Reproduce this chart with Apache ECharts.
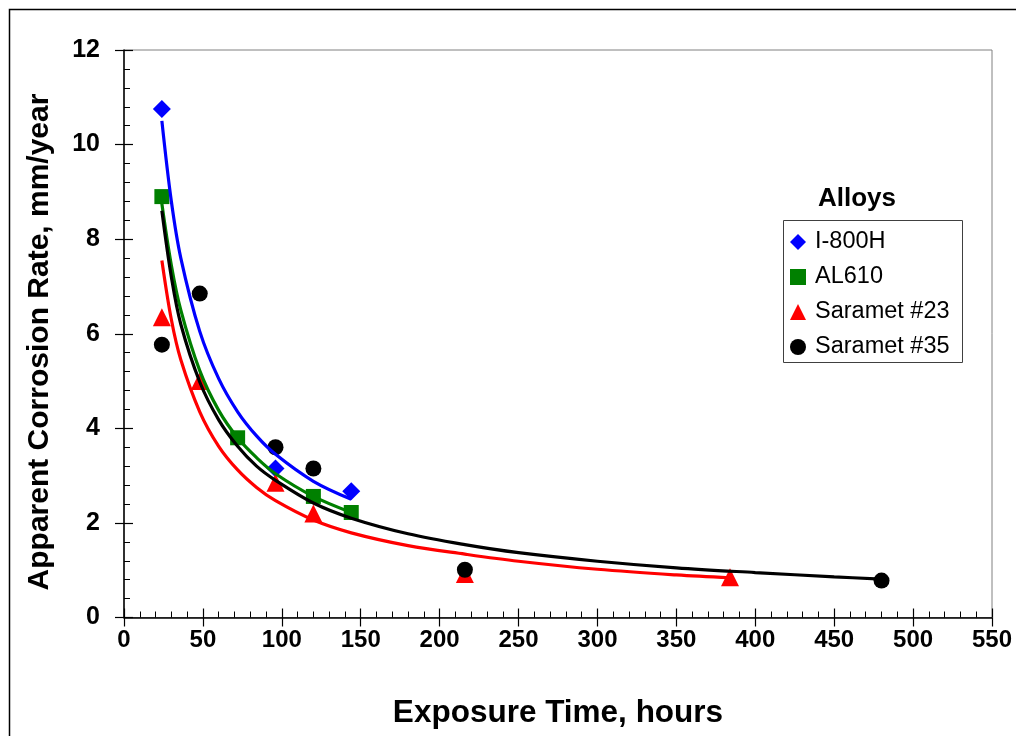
<!DOCTYPE html>
<html>
<head>
<meta charset="utf-8">
<script src="https://cdn.jsdelivr.net/npm/echarts@6/dist/echarts.min.js"></script>
<style>html,body{margin:0;padding:0;background:#fff;}#c{width:1016px;height:736px;}</style>
</head>
<body>
<div id="c"></div>
<script>
// ---- measured data points ----
const i800hX = [24, 96, 144];
const i800hY = [10.75, 3.15, 2.67];
const al610X = [24, 72, 120, 144];
const al610Y = [8.9, 3.8, 2.56, 2.22];
const s23X = [24, 48, 96, 120, 216, 384];
const s23Y = [6.35, 5.0, 2.85, 2.2, 0.92, 0.85];
const s35X = [24, 48, 96, 120, 216, 480];
const s35Y = [5.77, 6.85, 3.6, 3.15, 1.01, 0.78];

// ---- trend curves ----
const i800hFitX = [24, 30, 36, 48, 60, 72, 84, 96, 120, 144];
const i800hFitY = [10.5, 8.8, 7.6, 6.05, 5.05, 4.35, 3.84, 3.45, 2.88, 2.5];
const al610FitX = [24, 30, 36, 48, 60, 72, 84, 96, 120, 144];
const al610FitY = [8.75, 7.45, 6.5, 5.22, 4.38, 3.8, 3.38, 3.04, 2.56, 2.22];
const s23FitX = [24, 30, 36, 48, 60, 72, 84, 96, 120, 144, 180, 216, 250, 300, 350, 384];
const s23FitY = [7.55, 6.3, 5.45, 4.35, 3.62, 3.12, 2.75, 2.47, 2.06, 1.79, 1.52, 1.34, 1.19, 1.02, 0.9, 0.84];
const s35FitX = [24, 30, 36, 48, 60, 72, 84, 96, 120, 144, 180, 216, 250, 300, 350, 400, 450, 480];
const s35FitY = [8.6, 7.2, 6.2, 4.98, 4.18, 3.62, 3.2, 2.9, 2.42, 2.1, 1.77, 1.54, 1.37, 1.19, 1.05, 0.95, 0.86, 0.81];

const seriesNames = ['I-800H', 'AL610', 'Saramet #23', 'Saramet #35'];
const xTitle = 'Exposure Time, hours';
const yTitle = 'Apparent Corrosion Rate, mm/year';
const legendTitle = 'Alloys';

const pair = (xs, ys) => xs.map((x, i) => [x, ys[i]]);

const chart = echarts.init(document.getElementById('c'), null, {renderer: 'canvas'});
const FONT = 'Liberation Sans, Arial, sans-serif';

const baseX = {min: 0, max: 550, interval: 50};
const baseY = {min: 0, max: 12, interval: 2};

const option = {
  backgroundColor: '#fff',
  animation: false,
  grid: {left: 124, right: 24, top: 50, bottom: 118.5, show: true, borderColor: '#808080', borderWidth: 1, backgroundColor: 'transparent'},
  xAxis: [
    Object.assign({type: 'value', position: 'bottom',
      axisLine: {show: true, onZero: false, lineStyle: {color: '#000', width: 1.5}},
      axisTick: {show: true, inside: false, length: 9, lineStyle: {color: '#000', width: 1.2}},
      axisLabel: {show: true, margin: 11, color: '#000', fontFamily: FONT, fontWeight: 'bold', fontSize: 24},
      splitLine: {show: false}}, baseX),
    Object.assign({type: 'value', position: 'bottom',
      axisLine: {show: false},
      axisTick: {show: true, inside: true, length: 9, lineStyle: {color: '#000', width: 1.2}},
      minorTick: {show: true, splitNumber: 5, length: 6, lineStyle: {color: '#000', width: 1}},
      axisLabel: {show: false}, splitLine: {show: false}}, baseX)
  ],
  yAxis: [
    Object.assign({type: 'value', position: 'left',
      axisLine: {show: true, onZero: false, lineStyle: {color: '#000', width: 1.5}},
      axisTick: {show: true, inside: false, length: 9, lineStyle: {color: '#000', width: 1.2}},
      axisLabel: {show: true, margin: 24, color: '#000', fontFamily: FONT, fontWeight: 'bold', fontSize: 25},
      splitLine: {show: false}}, baseY),
    Object.assign({type: 'value', position: 'left',
      axisLine: {show: false},
      axisTick: {show: true, inside: true, length: 9, lineStyle: {color: '#000', width: 1.2}},
      minorTick: {show: true, splitNumber: 5, length: 6, lineStyle: {color: '#000', width: 1}},
      axisLabel: {show: false}, splitLine: {show: false}}, baseY)
  ],
  legend: {
    orient: 'vertical', left: 790, top: 230, padding: 0,
    itemWidth: 16, itemHeight: 16, itemGap: 11,
    textStyle: {fontFamily: FONT, fontSize: 23.5, lineHeight: 20, color: '#000', padding: [0, 0, 0, 4]},
    data: [
      {name: seriesNames[0], icon: 'diamond'},
      {name: seriesNames[1], icon: 'rect'},
      {name: seriesNames[2], icon: 'triangle'},
      {name: seriesNames[3], icon: 'circle'}
    ]
  },
  graphic: [
    {type: 'rect', shape: {x: 9.5, y: 9.5, width: 1100, height: 1000}, style: {fill: 'none', stroke: '#000', lineWidth: 1.5}, silent: true, z: -10},
    {type: 'rect', shape: {x: 783.5, y: 220.5, width: 179, height: 142}, style: {fill: '#fff', stroke: '#404040', lineWidth: 1}, z: -1},
    {type: 'text', x: 857, y: 199, style: {text: legendTitle, font: 'bold 26px ' + FONT, fill: '#000', textAlign: 'center', textVerticalAlign: 'middle'}},
    {type: 'text', x: 558, y: 713, style: {text: xTitle, font: 'bold 31.5px ' + FONT, fill: '#000', textAlign: 'center', textVerticalAlign: 'middle'}},
    {type: 'text', x: 40, y: 342, rotation: Math.PI / 2, style: {text: yTitle, font: 'bold 30px ' + FONT, fill: '#000', textAlign: 'center', textVerticalAlign: 'middle'}}
  ],
  series: [
    {name: seriesNames[0], type: 'scatter', symbol: 'diamond', symbolSize: 18, itemStyle: {color: '#0000FF', opacity: 1}, data: pair(i800hX, i800hY), z: 2},
    {name: seriesNames[1], type: 'scatter', symbol: 'rect', symbolSize: 15, itemStyle: {color: '#008000', opacity: 1}, data: pair(al610X, al610Y), z: 2},
    {name: seriesNames[2], type: 'scatter', symbol: 'triangle', symbolSize: 18, itemStyle: {color: '#FF0000', opacity: 1}, data: pair(s23X, s23Y), z: 2},
    {name: seriesNames[3], type: 'scatter', symbol: 'circle', symbolSize: 16, itemStyle: {color: '#000000', opacity: 1}, data: pair(s35X, s35Y), z: 2},
    {name: 'fit-i800h', type: 'line', smooth: 0.35, showSymbol: false, symbol: 'none', lineStyle: {color: '#0000FF', width: 3.2}, data: pair(i800hFitX, i800hFitY), z: 3},
    {name: 'fit-al610', type: 'line', smooth: 0.35, showSymbol: false, symbol: 'none', lineStyle: {color: '#008000', width: 3.2}, data: pair(al610FitX, al610FitY), z: 3},
    {name: 'fit-s23', type: 'line', smooth: 0.35, showSymbol: false, symbol: 'none', lineStyle: {color: '#FF0000', width: 3.2}, data: pair(s23FitX, s23FitY), z: 3},
    {name: 'fit-s35', type: 'line', smooth: 0.35, showSymbol: false, symbol: 'none', lineStyle: {color: '#000000', width: 3.2}, data: pair(s35FitX, s35FitY), z: 3}
  ]
};
chart.setOption(option);
</script>
</body>
</html>
